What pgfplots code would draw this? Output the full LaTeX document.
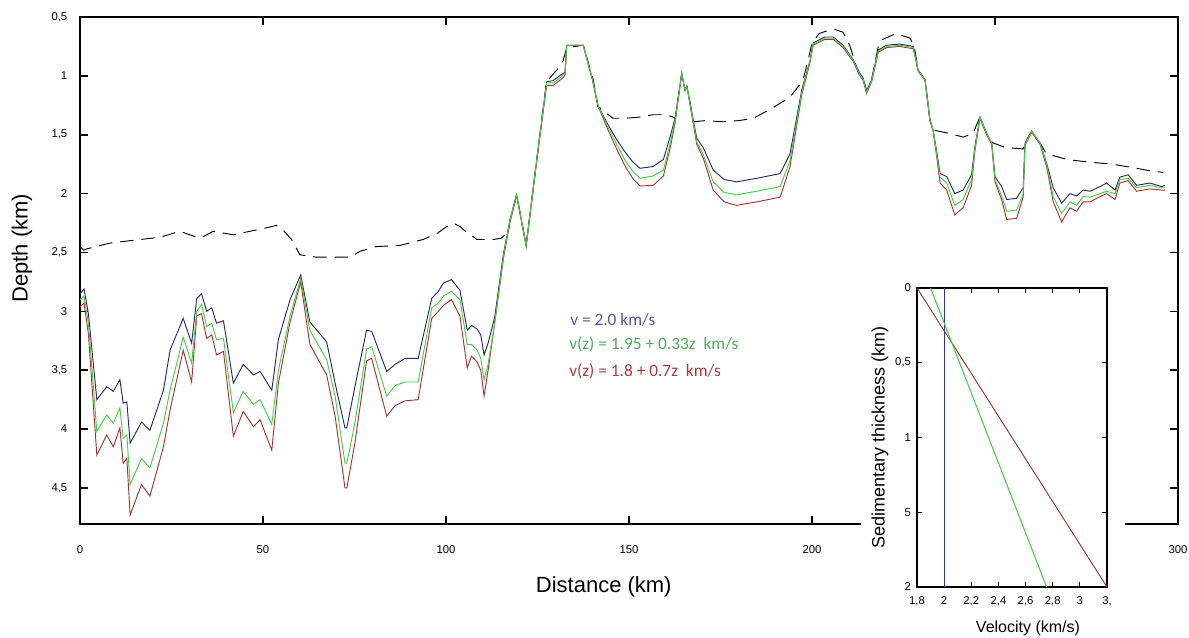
\documentclass[border=0pt]{standalone}
\usepackage{fontspec}
\setmainfont{Liberation Sans}
\newfontfamily\carlito{Carlito}
\usepackage{pgfplots}
\pgfplotsset{compat=1.18}
\definecolor{cblue}{RGB}{40,40,110}
\definecolor{cgreen}{RGB}{70,205,70}
\definecolor{cred}{RGB}{170,50,50}
\definecolor{tblue}{RGB}{80,90,150}
\definecolor{tgreen}{RGB}{80,170,90}
\definecolor{tred}{RGB}{170,60,60}
\definecolor{iblue}{RGB}{50,50,150}
\definecolor{ired}{RGB}{150,50,50}
\begin{document}
\begin{tikzpicture}
\path[use as bounding box] (0,0) rectangle (891.75pt,478.5pt);
\begin{axis}[
  at={(60pt,85.5pt)}, anchor=south west,
  scale only axis, width=823.5pt, height=380.25pt,
  xmin=0, xmax=300, ymin=0.5, ymax=4.806, y dir=reverse,
  xtick={0,50,...,300}, ytick={0.5,1,...,4.5},
  /pgf/number format/use comma,
  /pgf/number format/assume math mode=true,
  tick label style={font=\fontsize{8.5}{9}\selectfont},
  xticklabel style={anchor=center, yshift=-19.5pt},
  yticklabel style={anchor=east, xshift=-6pt},
  tick align=inside, major tick length=6pt,
  tick style={line width=1.2pt, black},
  axis line style={line width=1.6pt},
  xlabel={Distance (km)}, ylabel={Depth (km)},
  label style={font=\fontsize{16.5}{18}\selectfont},
  xlabel style={at={(axis description cs:0.477,-0.124)}, anchor=center},
  ylabel style={at={(axis description cs:-0.0528,0.544)}, anchor=center},
  clip=true,
]
% dashed line
\addplot[black, line width=0.7pt, dash pattern=on 10pt off 6pt] coordinates {
(0,2.45)(1,2.48)(1.8,2.47)(8.2,2.42)(16.4,2.39)(21.9,2.37)(27.3,2.32)(32.8,2.38)(36.4,2.32)(41.9,2.35)(46.4,2.32)(51,2.29)(53.7,2.27)(55.5,2.31)(57.8,2.39)(60.1,2.52)(64.6,2.54)(69.2,2.54)(73.8,2.54)(76.5,2.49)(81,2.45)(87.4,2.44)(93.7,2.39)(97.5,2.34)(100.2,2.28)(102,2.25)(103.8,2.28)(105.7,2.33)(108.5,2.39)(112.8,2.39)(115,2.38)(117,2.33)(117.5,2.22)(119.3,2.01)(121.9,2.44)(124.8,1.71)(127.5,1.04)(128,1.03)(130.3,0.95)(132,0.87)(133,0.76)(137.5,0.74)(140.2,1.03)(141.5,1.26)(142,1.27)(145.6,1.36)(149,1.36)(153,1.35)(156.6,1.33)(160,1.33)(162,1.35)(162.6,1.36)(164.4,0.98)(165.3,1.12)(165.8,1.09)(166.7,1.23)(167.5,1.39)(171,1.38)(175.7,1.39)(180,1.38)(184,1.36)(187,1.31)(189.3,1.27)(192,1.22)(194,1.18)(196,1.10)(197.5,1.04)(199,0.86)(200,0.72)(202,0.64)(205.8,0.60)(208.5,0.63)(210.4,0.75)(212.7,0.98)(214,1.02)(214.9,1.13)(216.3,1.03)(218.1,0.75)(218.6,0.70)(223,0.64)(226.8,0.68)(228,0.76)(229,0.95)(230.9,1.035)(232.2,1.37)(233.1,1.46)(237.7,1.49)(241.3,1.52)(244,1.49)(244.5,1.45)(245.9,1.35)(247.7,1.49)(249.5,1.57)(253,1.61)(257.7,1.62)(258.2,1.57)(260,1.47)(262.3,1.57)(264,1.66)(269.6,1.71)(275,1.73)(282,1.75)(287.8,1.78)(293,1.81)(296,1.82)
};
% blue v = 2.0
\addplot[cblue, line width=0.7pt] coordinates {
(0,2.85)(1.1,2.81)(2.3,3.02)(4.6,3.75)(7.3,3.64)(9.1,3.68)(10.9,3.58)(11.8,3.78)(12.8,3.77)(13.7,4.12)(16.8,3.94)(19.1,4.01)(22.8,3.67)(24.6,3.33)(28.2,3.06)(30.5,3.27)(31.9,2.89)(33.2,2.85)(34.6,3.00)(36.0,2.97)(37.3,3.10)(39.2,3.08)(41.9,3.61)(44.6,3.45)(47.4,3.54)(49.2,3.51)(52.4,3.67)(54.2,3.24)(57.4,2.90)(60.3,2.69)(62.8,3.09)(67.4,3.26)(69.7,3.61)(72.4,3.99)(72.9,3.99)(75.1,3.64)(78.3,3.16)(79.7,3.17)(83.8,3.51)(86.1,3.45)(88.8,3.40)(92.4,3.40)(96.1,2.89)(97.9,2.83)(99.3,2.76)(101.5,2.73)(103.8,2.82)
(105.8,3.16)(107,3.12)(108.5,3.15)(109.5,3.20)(110.4,3.37)(111.5,3.27)(113.3,3.05)(115.7,2.51)(117.5,2.22)
(119.3,2.01)(121.9,2.44)(124.8,1.71)(127.5,1.05)(129.3,1.04)(131,1.0)(132.5,0.97)(133,0.74)(137.5,0.74)(140,1.03)(141.6,1.26)
(142,1.28)(144,1.40)(146.6,1.54)(149,1.65)(151,1.73)(153,1.785)(156.6,1.77)(159.4,1.71)(161.2,1.52)(162.6,1.36)(164.4,0.98)(165.3,1.12)(165.8,1.09)(166.7,1.23)(168.5,1.53)(170.3,1.61)(173,1.80)(176,1.88)(179.4,1.90)(184.9,1.87)(191.3,1.83)(194,1.66)(197.2,1.12)(199.5,0.865)
(200.3,0.72)(203.5,0.67)(205.8,0.67)(208.5,0.74)(211.3,0.865)(213.1,0.98)(214,1.02)(214.9,1.13)(216.3,1.03)(218.1,0.78)(220.4,0.74)(224,0.73)(227.7,0.75)(229,0.95)(230.9,1.035)(232.2,1.37)(233.1,1.46)(234,1.63)(235,1.83)(236.8,1.855)(239,2.0)(241.3,1.97)(243.6,1.84)(244.5,1.60)(245.9,1.35)(247.7,1.49)(249.1,1.57)(250,1.855)(251.8,1.94)(253.2,2.05)(255.9,2.04)(257.7,1.95)(258.2,1.57)(260,1.47)(262.3,1.57)(264.1,1.74)(265.9,1.95)(268.2,2.08)(270.5,2.0)(272.3,2.02)(274.1,1.97)(276,1.98)(278.7,1.94)(280.5,1.91)(282.8,1.97)(284.1,1.86)(286.4,1.84)(288.7,1.93)(292.3,1.91)(295.5,1.94)(296.4,1.93)
};
% red v = 1.8 + 0.7z
\addplot[cred, line width=0.7pt] coordinates {
(0,2.96)(1.1,2.93)(2.3,3.19)(4.6,4.22)(7.3,4.05)(9.1,4.15)(10.9,3.99)(11.8,4.29)(12.8,4.25)(13.7,4.73)(16.8,4.47)(19.1,4.57)(22.8,4.15)(24.6,3.84)(28.2,3.33)(30.5,3.60)(31.9,3.04)(33.2,3.02)(34.6,3.23)(36.0,3.20)(37.3,3.37)(39.2,3.34)(41.9,4.06)(44.6,3.85)(47.4,3.98)(49.2,3.92)(52.4,4.18)(54.2,3.61)(57.4,3.09)(60.3,2.75)(62.8,3.28)(67.4,3.54)(69.7,3.89)(72.4,4.50)(72.9,4.50)(75.1,4.12)(78.3,3.42)(79.7,3.40)(83.8,3.89)(86.1,3.80)(88.8,3.76)(92.4,3.75)(96.1,3.06)(97.9,3.00)(99.3,2.95)(101.5,2.90)(103.8,3.04)
(105.8,3.48)(107,3.38)(108.5,3.43)(109.5,3.50)(110.4,3.72)(111.5,3.50)(113.3,3.10)(115.7,2.55)(117.5,2.24)
(119.3,2.02)(121.9,2.44)(124.8,1.72)(127.5,1.08)(129.3,1.08)(131,1.04)(132.5,1.0)(133,0.74)(137.5,0.74)(140,1.03)(141.6,1.27)
(142,1.29)(144,1.44)(146.6,1.62)(149,1.77)(151,1.87)(153,1.935)(156.6,1.93)(159.4,1.85)(161.2,1.62)(162.6,1.40)(164.4,0.98)(165.3,1.12)(165.8,1.09)(166.7,1.25)(168.5,1.58)(170.3,1.70)(173,1.97)(176,2.07)(179.4,2.10)(184.9,2.07)(191.3,2.03)(194,1.77)(197.2,1.16)(199.5,0.88)
(200.3,0.74)(203.5,0.69)(205.8,0.69)(208.5,0.76)(211.3,0.88)(213.1,1.0)(214,1.04)(214.9,1.15)(216.3,1.05)(218.1,0.80)(220.4,0.76)(224,0.75)(227.7,0.77)(229,0.96)(230.9,1.04)(232.2,1.38)(233.1,1.47)(234,1.67)(235,1.91)(236.8,1.97)(239,2.18)(241.3,2.12)(243.6,1.93)(244.5,1.64)(245.9,1.36)(247.7,1.50)(249.1,1.58)(250,1.90)(251.8,2.05)(253.2,2.22)(255.9,2.21)(257.7,2.03)(258.2,1.59)(260,1.48)(262.3,1.58)(264.1,1.77)(265.9,2.07)(268.2,2.24)(270.5,2.12)(272.3,2.15)(274.1,2.07)(276,2.07)(278.7,2.025)(280.5,2.0)(282.8,2.05)(284.1,1.91)(286.4,1.89)(288.7,1.98)(292.3,1.96)(295.5,1.97)(296.4,1.97)
};
% green v = 1.95 + 0.33z
\addplot[cgreen, line width=0.7pt] coordinates {
(0,2.90)(1.1,2.87)(2.3,3.10)(4.6,4.02)(7.3,3.88)(9.1,3.95)(10.9,3.82)(11.8,4.08)(12.8,4.05)(13.7,4.47)(16.8,4.25)(19.1,4.33)(22.8,3.95)(24.6,3.67)(28.2,3.22)(30.5,3.44)(31.9,3.00)(33.2,2.94)(34.6,3.13)(36.0,3.10)(37.3,3.24)(39.2,3.23)(41.9,3.86)(44.6,3.68)(47.4,3.79)(49.2,3.75)(52.4,3.96)(54.2,3.50)(57.4,3.04)(60.3,2.72)(62.8,3.16)(67.4,3.41)(69.7,3.72)(72.4,4.29)(72.9,4.29)(75.1,3.95)(78.3,3.32)(79.7,3.30)(83.8,3.72)(86.1,3.63)(88.8,3.60)(92.4,3.60)(96.1,2.97)(97.9,2.93)(99.3,2.87)(101.5,2.83)(103.8,2.90)
(105.8,3.28)(107,3.28)(108.5,3.33)(109.5,3.40)(110.4,3.58)(111.5,3.45)(113.3,3.10)(115.7,2.53)(117.5,2.22)
(119.3,2.01)(121.9,2.44)(124.8,1.71)(127.5,1.06)(129.3,1.06)(131,1.02)(132.5,0.98)(133,0.74)(137.5,0.74)(140,1.03)(141.6,1.26)
(142,1.28)(144,1.42)(146.6,1.58)(149,1.72)(151,1.81)(153,1.87)(156.6,1.85)(159.4,1.80)(161.2,1.58)(162.6,1.38)(164.4,0.98)(165.3,1.12)(165.8,1.09)(166.7,1.24)(168.5,1.56)(170.3,1.67)(173,1.90)(176,1.99)(179.4,2.01)(184.9,1.98)(191.3,1.94)(194,1.72)(197.2,1.14)(199.5,0.87)
(200.3,0.73)(203.5,0.68)(205.8,0.68)(208.5,0.75)(211.3,0.87)(213.1,0.99)(214,1.03)(214.9,1.14)(216.3,1.04)(218.1,0.79)(220.4,0.75)(224,0.74)(227.7,0.76)(229,0.95)(230.9,1.035)(232.2,1.37)(233.1,1.46)(234,1.65)(235,1.86)(236.8,1.91)(239,2.10)(241.3,2.05)(243.6,1.88)(244.5,1.62)(245.9,1.35)(247.7,1.49)(249.1,1.57)(250,1.88)(251.8,2.02)(253.2,2.15)(255.9,2.14)(257.7,2.00)(258.2,1.58)(260,1.47)(262.3,1.57)(264.1,1.75)(265.9,2.025)(268.2,2.17)(270.5,2.07)(272.3,2.10)(274.1,2.025)(276,2.03)(278.7,2.0)(280.5,1.98)(282.8,2.0)(284.1,1.88)(286.4,1.87)(288.7,1.95)(292.3,1.93)(295.5,1.95)(296.4,1.95)
};
\end{axis}
% annotations
\node[anchor=west, inner sep=0pt, text=tblue, font=\carlito\fontsize{13}{15}\selectfont] at (427.5pt,238.5pt) {v = 2.0 km/s};
\node[anchor=west, inner sep=0pt, text=tgreen, font=\carlito\fontsize{13}{15}\selectfont] at (426.75pt,220.5pt) {v(z) = 1.95 + 0.33z\ \ km/s};
\node[anchor=west, inner sep=0pt, text=tred, font=\carlito\fontsize{13}{15}\selectfont] at (426.75pt,200.25pt) {v(z) = 1.8 + 0.7z\ \ km/s};
% white background of the inset
\fill[white] (645.75pt,0pt) rectangle (843.75pt,268.5pt);
\begin{axis}[
  at={(687.75pt,38.25pt)}, anchor=south west,
  scale only axis, width=142.5pt, height=224.25pt,
  xmin=1.8, xmax=3.2, ymin=0, ymax=2, y dir=reverse,
  xtick={1.8,2,2.2,2.4,2.6,2.8,3,3.2},
  xticklabels={1{,}8,2,2{,}2,2{,}4,2{,}6,2{,}8,3,3{,}},
  ytick={0,0.5,1,1.5,2},
  yticklabels={0,0{,}5,1,5,2},
  tick label style={font=\fontsize{8.5}{9}\selectfont},
  xticklabel style={anchor=north, yshift=-4pt},
  yticklabel style={anchor=east, xshift=-1pt},
  tick align=inside, major tick length=4pt,
  tick style={line width=0.9pt, black},
  axis line style={line width=1.2pt},
  xlabel={Velocity (km/s)}, ylabel={Sedimentary thickness (km)},
  xlabel style={font=\fontsize{12}{14}\selectfont, at={(axis description cs:0.584,-0.14)}, anchor=center},
  ylabel style={font=\fontsize{13.5}{15}\selectfont, at={(axis description cs:-0.195,0.5)}, anchor=center},
]
\addplot[iblue, line width=0.7pt] coordinates {(2,0)(2,2)};
\addplot[ired, line width=0.7pt] coordinates {(1.8,0)(3.2,2)};
\addplot[cgreen, line width=0.8pt] coordinates {(1.9,0)(2.755,2)};
\end{axis}
\end{tikzpicture}
\end{document}
